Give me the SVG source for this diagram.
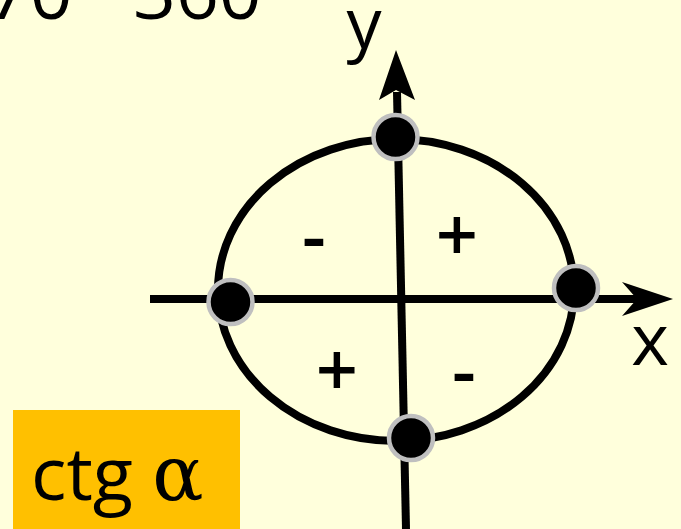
<svg xmlns="http://www.w3.org/2000/svg" width="681" height="529" viewBox="0 0 681 529">
<style>
.o{font-family:"Open Sans","Liberation Sans",sans-serif;fill:#000}
.ax{stroke:#000;stroke-width:8;fill:none}
.dot{fill:#000;stroke:#BFBFBF;stroke-width:4.5}
.sign{font-family:"Open Sans","Liberation Sans",sans-serif;font-size:74px;font-weight:600;text-anchor:middle}
</style>
<rect x="0" y="0" width="681" height="529" fill="#FFFFDC"/>
<g id="title"><text class="o" x="-56" y="19" font-size="75">270 <tspan font-size="50" dy="-16">–</tspan> <tspan x="133" dy="16">360</tspan></text></g>
<g id="circle"><ellipse cx="396" cy="290" rx="178" ry="151" class="ax" stroke-width="9"/></g>
<g id="connectors">
<line class="ax" x1="150" y1="299" x2="640" y2="299"/>
<polygon points="673,299 622,282 637,299 622,316" fill="#000"/>
<line class="ax" x1="406" y1="529" x2="397" y2="92"/>
<polygon points="396,50 379,100 396,90 415,100" fill="#000"/>
</g>
<g id="label-y"><text class="o" x="364" y="48" font-size="70" text-anchor="middle">y</text></g>
<g id="label-x"><text class="o" x="650" y="365" font-size="72" text-anchor="middle">x</text></g>
<g id="signs">
<text class="sign" x="314" y="262">-</text>
<text class="sign" x="457" y="261">+</text>
<text class="sign" x="337" y="396">+</text>
<text class="sign" x="464" y="397">-</text>
</g>
<g id="dot-top"><circle class="dot" cx="395.5" cy="137" r="22"/></g>
<g id="dot-left"><circle class="dot" cx="230.5" cy="302" r="22"/></g>
<g id="dot-right"><circle class="dot" cx="576" cy="288" r="22"/></g>
<g id="dot-bottom"><circle class="dot" cx="411" cy="438" r="22"/></g>
<g id="ctg-box">
<rect x="13" y="410" width="227" height="119" fill="#FFC000"/>
<text class="o" x="31" y="500" font-size="74">ctg <tspan font-family="DejaVu Serif, serif" font-size="76">α</tspan></text>
</g>
</svg>
